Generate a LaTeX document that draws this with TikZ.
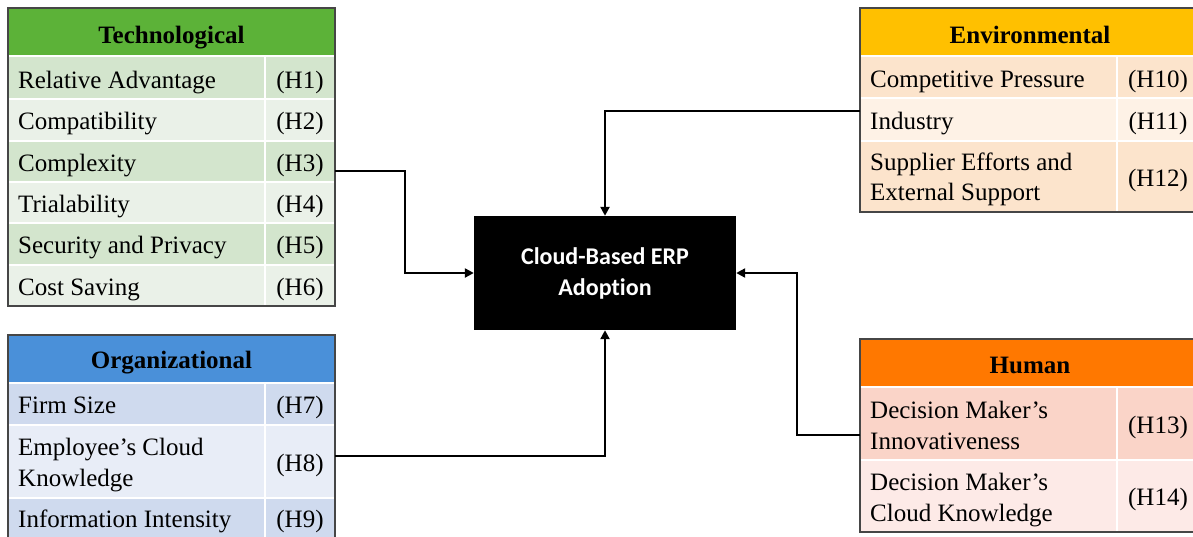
\documentclass[tikz,border=0pt]{standalone}
\usepackage{fontspec}
\setmainfont{Liberation Serif}
\newfontfamily\calib[Ligatures=NoCommon]{Carlito}
\usetikzlibrary{arrows.meta}
\definecolor{tgreen}{RGB}{92,178,56}
\definecolor{tdark}{RGB}{211,229,205}
\definecolor{tlight}{RGB}{234,241,232}
\definecolor{oblue}{RGB}{74,144,217}
\definecolor{odark}{RGB}{207,218,238}
\definecolor{olight}{RGB}{232,237,247}
\definecolor{eyellow}{RGB}{255,192,0}
\definecolor{edark}{RGB}{252,228,204}
\definecolor{elight}{RGB}{254,242,230}
\definecolor{horange}{RGB}{255,120,0}
\definecolor{hdark}{RGB}{250,212,200}
\definecolor{hlight}{RGB}{253,234,231}
\definecolor{framegray}{RGB}{70,70,70}
\begin{document}
\begin{tikzpicture}[x=1pt,y=-1pt,
  rowtxt/.style={anchor=base west, inner sep=0pt, font=\fontsize{25}{31}\selectfont},
  htxt/.style={anchor=base, inner sep=0pt, font=\fontsize{25}{31}\selectfont},
  hdrtxt/.style={anchor=base, inner sep=0pt, font=\fontsize{25}{31}\selectfont\bfseries},
  sepline/.style={white, line width=2.5pt},
  tframe/.style={draw=framegray, line width=1.2pt},
  arr/.style={line width=2.4pt, -{Triangle[length=9pt,width=9pt]}},
  erpbox/.style={fill=black, text=white, minimum width=262pt, minimum height=114pt, inner sep=0pt,
    align=center, font=\calib\fontsize{24}{31}\selectfont\bfseries}]
\useasboundingbox (0,0) rectangle (1193,536);
\clip (0,0) rectangle (1193,536);

% ---------- Technological ----------
\fill[tgreen] (8,8) rectangle (335,56);
\fill[tdark]  (8,56) rectangle (335,99);
\fill[tlight] (8,99) rectangle (335,141);
\fill[tdark]  (8,141) rectangle (335,182);
\fill[tlight] (8,182) rectangle (335,223);
\fill[tdark]  (8,223) rectangle (335,265);
\fill[tlight] (8,265) rectangle (335,306);
\foreach \yy in {56,99,141,182,223,265} \draw[sepline] (8,\yy) -- (335,\yy);
\draw[sepline] (265,57) -- (265,306);
\draw[tframe] (8,8) rectangle (335,306);
\node[hdrtxt] (th) at (171.5,43) {Technological};
\node[rowtxt] (t1) at (18,88) {Relative Advantage};
\node[htxt] (t1h) at (300,88) {(H1)};
\node[rowtxt] (t2) at (18,129.5) {Compatibility};
\node[htxt] (t2h) at (300,129.5) {(H2)};
\node[rowtxt] (t3) at (18,171) {Complexity};
\node[htxt] (t3h) at (300,171) {(H3)};
\node[rowtxt] (t4) at (18,212) {Trialability};
\node[htxt] (t4h) at (300,212) {(H4)};
\node[rowtxt] (t5) at (18,253.5) {Security and Privacy};
\node[htxt] (t5h) at (300,253.5) {(H5)};
\node[rowtxt] (t6) at (18,295) {Cost Saving};
\node[htxt] (t6h) at (300,295) {(H6)};

% ---------- Organizational ----------
\fill[oblue]  (8,335) rectangle (335,383);
\fill[odark]  (8,383) rectangle (335,425);
\fill[olight] (8,425) rectangle (335,498);
\fill[odark]  (8,498) rectangle (335,539);
\foreach \yy in {383,425,498} \draw[sepline] (8,\yy) -- (335,\yy);
\draw[sepline] (265,384) -- (265,539);
\draw[tframe] (8,335) rectangle (335,539);
\node[hdrtxt] (oh) at (171.5,368) {Organizational};
\node[rowtxt] (o1) at (18,413.5) {Firm Size};
\node[htxt] (o1h) at (300,413.5) {(H7)};
\node[rowtxt] (o2a) at (18,455.5) {Employee’s Cloud};
\node[rowtxt] (o2b) at (18,486.5) {Knowledge};
\node[htxt] (o2h) at (300,471) {(H8)};
\node[rowtxt] (o3) at (18,527) {Information Intensity};
\node[htxt] (o3h) at (300,527) {(H9)};

% ---------- Environmental ----------
\fill[eyellow] (860,8) rectangle (1200,56);
\fill[edark]   (860,56) rectangle (1200,98);
\fill[elight]  (860,98) rectangle (1200,141);
\fill[edark]   (860,141) rectangle (1200,212);
\foreach \yy in {56,98,141} \draw[sepline] (860,\yy) -- (1200,\yy);
\draw[sepline] (1117,57) -- (1117,212);
\draw[tframe] (860,8) rectangle (1200,212);
\node[hdrtxt] (eh) at (1030,43) {Environmental};
\node[rowtxt] (e1) at (870,87) {Competitive Pressure};
\node[htxt] (e1h) at (1158,87) {(H10)};
\node[rowtxt] (e2) at (870,129.5) {Industry};
\node[htxt] (e2h) at (1158,129.5) {(H11)};
\node[rowtxt] (e3a) at (870,170.5) {Supplier Efforts and};
\node[rowtxt] (e3b) at (870,200.5) {External Support};
\node[htxt] (e3h) at (1158,186) {(H12)};

% ---------- Human ----------
\fill[horange] (860,339) rectangle (1200,387);
\fill[hdark]   (860,387) rectangle (1200,460);
\fill[hlight]  (860,460) rectangle (1200,532);
\foreach \yy in {387,460} \draw[sepline] (860,\yy) -- (1200,\yy);
\draw[sepline] (1117,388) -- (1117,532);
\draw[tframe] (860,339) rectangle (1200,532);
\node[hdrtxt] (hh) at (1030,373) {Human};
\node[rowtxt] (h1a) at (870,418) {Decision Maker’s};
\node[rowtxt] (h1b) at (870,449) {Innovativeness};
\node[htxt] (h1h) at (1158,433) {(H13)};
\node[rowtxt] (h2a) at (870,490) {Decision Maker’s};
\node[rowtxt] (h2b) at (870,521) {Cloud Knowledge};
\node[htxt] (h2h) at (1158,505.5) {(H14)};

% ---------- Centre ----------
\node[erpbox] (erp) at (605,273) {Cloud-Based ERP\\Adoption};

\coordinate (techout) at (335,171);
\coordinate (envout) at (860,111);
\coordinate (orgout) at (335,456);
\coordinate (humout) at (860,435);
\draw[arr] (techout) -- ++(70,0) |- (erp.west);
\draw[arr] (envout) -| (erp.north);
\draw[arr] (orgout) -| (erp.south);
\draw[arr] (humout) -- ++(-63,0) |- (erp.east);
\end{tikzpicture}
\end{document}
